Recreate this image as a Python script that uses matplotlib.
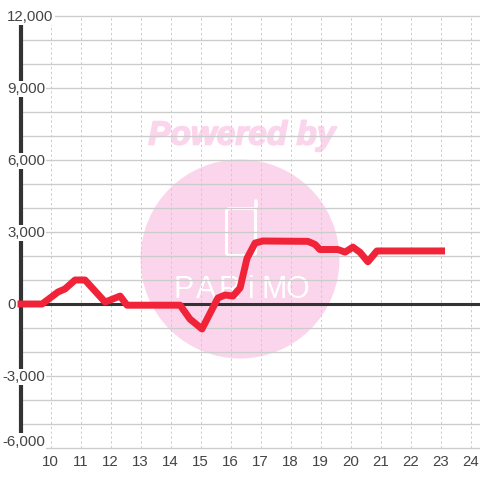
import matplotlib
matplotlib.use("Agg")
import matplotlib.pyplot as plt
import matplotlib.patheffects as pe
from matplotlib.patches import Circle, FancyBboxPatch

plt.rcParams['font.family'] = ['Liberation Sans', 'DejaVu Sans']

# --- Data ---
HOURS = [8.9, 9.72, 10.25, 10.48, 10.82, 11.15, 11.82, 12.32, 12.55, 14.32, 14.65,
         15.05, 15.58, 15.82, 16.08, 16.32, 16.55, 16.82, 17.08, 18.58, 18.82, 18.98,
         19.58, 19.82, 20.08, 20.32, 20.58, 20.88, 23.15]
VALUES = [0, 0, 500, 625, 1000, 1000, 80, 330, -50, -50, -630,
          -1040, 250, 375, 330, 670, 1900, 2540, 2625, 2610, 2480, 2270,
          2270, 2160, 2370, 2150, 1760, 2210, 2210]
X_TICKS = list(range(10, 25))
Y_LABELS = [12000, 9000, 6000, 3000, 0, -3000, -6000]
Y_GRID = list(range(-6000, 13000, 1000))
LOGO_LETTERS = ["P", "A", "R", "i", "M", "O"]

PINK = '#fbd5ec'
RED = '#f02339'
DARK = '#333333'
GRID = '#cccccc'
TEXT = '#444444'

fig = plt.figure(figsize=(4.8, 4.8), dpi=100)

# watermark sits under the chart, in pixel coordinates
wm = fig.add_axes([0, 0, 1, 1])
wm.set_xlim(0, 480)
wm.set_ylim(480, 0)
wm.axis('off')
wm.add_patch(Circle((240, 259), 99.5, color=PINK, lw=0))
wm.text(242, 136, "Powered by", color=PINK, fontsize=24, fontweight='bold',
        fontstyle='italic', ha='center', va='center',
        path_effects=[pe.withStroke(linewidth=1.2, foreground=PINK)])
wm.add_patch(FancyBboxPatch((226.5, 208.5), 29, 47, boxstyle="round,pad=0,rounding_size=3",
                            fc='none', ec='white', lw=2.2))
wm.plot([255.5, 255.5], [208, 201], color='white', lw=2.6, solid_capstyle='round')
for i, letter in enumerate(LOGO_LETTERS):
    wm.text(184 + i * 22.6, 290, letter, color='white', fontsize=22, ha='center',
            va='center')

# chart fills the whole figure: 30 px per hour, 24 px per 1000
ax = fig.add_axes([0, 0, 1, 1], zorder=2)
ax.patch.set_alpha(0)
ax.set_xlim(10 - 50.5 / 30, 10 + 429.5 / 30)
ax.set_ylim((304 - 480) / 24 * 1000, 304 / 24 * 1000)
ax.axis('off')

ax.hlines(Y_GRID, 9, ax.get_xlim()[1], color=GRID, lw=0.95, zorder=1)
ax.vlines(X_TICKS, -6000, 12000, color=GRID, lw=0.7, linestyles=(0, (2.5, 2.5)), zorder=1)
ax.hlines(0, 9, ax.get_xlim()[1], color=DARK, lw=2.2, zorder=2)
ax.vlines(9, -6000, 12000, color=DARK, lw=3, zorder=2)

ax.plot(HOURS, VALUES, color=RED, lw=5.0, solid_joinstyle='round',
        solid_capstyle='butt', zorder=3)

for h in X_TICKS:
    ax.text(h, -6000 - 14 / 24 * 1000, str(h), color=TEXT, fontsize=10.8,
            ha='center', va='center', zorder=4)
for v in Y_LABELS:
    left = 2 if v < 0 else 7
    # the bottom label is pushed up so it stays clear of the hour labels
    y = v + 270 if v == -6000 else v - 45
    ax.text(10 + (left - 50.5) / 30, y, f"{v:,}", color=TEXT, fontsize=10.8, ha='left',
            va='center', zorder=4,
            bbox=dict(fc='white', ec='none', pad=1.0) if v != 0 else None)

fig.savefig("out.png", dpi=100)
